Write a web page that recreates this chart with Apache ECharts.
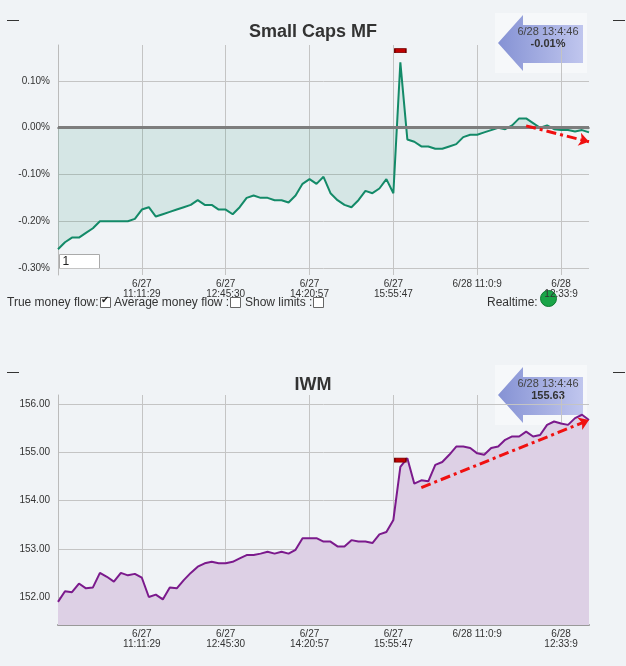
<!DOCTYPE html>
<html>
<head>
<meta charset="utf-8">
<script src="https://cdn.jsdelivr.net/npm/echarts@6/dist/echarts.min.js"></script>
<style>
  html, body { margin: 0; padding: 0; background: #f0f3f6; }
  #chart { width: 626px; height: 666px; }
</style>
</head>
<body>
<div id="chart"></div>
<script>
const categories = Array.from({ length: 77 }, (_, i) => i);
const tickLabels = {
    12: "6/27\n11:11:29",
    24: "6/27\n12:45:30",
    36: "6/27\n14:20:57",
    48: "6/27\n15:55:47",
    60: "6/28 11:0:9",
    72: "6/28\n12:33:9"
};
const moneyFlow = [
    -0.26, -0.245, -0.235, -0.235, -0.225, -0.215, -0.2, -0.2, -0.2, -0.2,
    -0.2, -0.195, -0.175, -0.17, -0.19, -0.185, -0.18, -0.175, -0.17, -0.165,
    -0.155, -0.165, -0.165, -0.175, -0.175, -0.185, -0.17, -0.15, -0.145, -0.15,
    -0.15, -0.155, -0.155, -0.16, -0.145, -0.12, -0.11, -0.12, -0.105, -0.14,
    -0.155, -0.165, -0.17, -0.155, -0.135, -0.14, -0.13, -0.11, -0.14, 0.14,
    -0.025, -0.03, -0.04, -0.04, -0.045, -0.045, -0.04, -0.035, -0.02, -0.015,
    -0.015, -0.01, -0.005, 0.0, -0.003, 0.005, 0.02, 0.02, 0.01, 0.0,
    0.005, -0.003, -0.005, -0.005, -0.008, -0.005, -0.01
];
const iwm = [
    151.9, 152.12, 152.1, 152.28, 152.18, 152.2, 152.5, 152.42, 152.32, 152.5,
    152.45, 152.48, 152.4, 152.0, 152.05, 151.95, 152.2, 152.18, 152.35, 152.5,
    152.63, 152.7, 152.73, 152.7, 152.7, 152.73, 152.8, 152.87, 152.87, 152.9,
    152.94, 152.9, 152.94, 152.9, 152.98, 153.22, 153.22, 153.22, 153.15, 153.15,
    153.05, 153.05, 153.18, 153.15, 153.15, 153.12, 153.3, 153.35, 153.6, 154.7,
    154.88, 154.35, 154.42, 154.4, 154.74, 154.8, 154.95, 155.12, 155.12, 155.09,
    154.98, 154.95, 155.09, 155.12, 155.26, 155.33, 155.33, 155.43, 155.33, 155.36,
    155.57, 155.64, 155.6, 155.57, 155.71, 155.78, 155.67
];
const mfTicks = [-0.3, -0.2, -0.1, 0, 0.1];
const iwmTicks = [152, 153, 154, 155, 156];

const chart = echarts.init(document.getElementById("chart"), null, { renderer: "canvas" });

const gridLine = { lineStyle: { color: "#c4c4c4", width: 1 } };
const labelFont = { color: "#333", fontSize: 10, fontFamily: "Arial" };
const arrowStyle = { color: "#f01010", width: 3, type: [10, 4, 3, 4] };

const xAxisFor = (gridIndex) => ({
    type: "category",
    gridIndex,
    data: categories,
    boundaryGap: false,
    axisLine: { lineStyle: { color: "#999", width: 2 } },
    axisTick: { show: false },
    axisLabel: {
        ...labelFont,
        interval: (i) => tickLabels[i] !== undefined,
        formatter: (v) => tickLabels[v] ?? "",
        lineHeight: 10,
        margin: 4
    },
    splitLine: { show: true, interval: (i) => tickLabels[i] !== undefined, ...gridLine }
});

const yAxisFor = (gridIndex, min, max, ticks, fmt) => ({
    type: "value",
    gridIndex,
    min, max,
    axisLine: { show: true, lineStyle: { color: "#bbb" } },
    axisTick: { show: false, customValues: ticks },
    axisLabel: { ...labelFont, customValues: ticks, formatter: fmt },
    splitLine: { show: true, ...gridLine }
});

const callout = (top, value) => ({
    type: "group",
    left: 495,
    top,
    children: [
        { type: "rect", shape: { x: 0, y: 0, width: 92, height: 60 }, style: { fill: "#f6f8fa" } },
        {
            type: "polygon",
            shape: { points: [[3, 30], [28, 2], [28, 12], [88, 12], [88, 50], [28, 50], [28, 58]] },
            style: {
                fill: new echarts.graphic.LinearGradient(0, 0, 1, 0, [
                    { offset: 0, color: "#8592d4" }, { offset: 1, color: "#c0c6ee" }
                ])
            }
        },
        { type: "text", style: { x: 53, y: 13, text: "6/28 13:4:46", fill: "#444", font: "11px Arial", textAlign: "center" } },
        { type: "text", style: { x: 53, y: 25, text: value, fill: "#333", font: "bold 11px Arial", textAlign: "center" } }
    ]
});

const inputBox = (top) => ({
    type: "group", left: 59, top,
    children: [
        { type: "rect", shape: { x: 0, y: 0, width: 40, height: 14 }, style: { fill: "#fff", stroke: "#aaa" } },
        { type: "text", style: { x: 3, y: 1, text: "1", fill: "#222", font: "12px Arial" } }
    ]
});

const flag = (value, idx) => ({
    symbol: "rect", symbolSize: [11, 4],
    itemStyle: { color: "#c00000", borderColor: "#700", borderWidth: 1 },
    label: { show: false },
    data: [{ coord: [idx, value] }]
});

chart.setOption({
    backgroundColor: "#f0f3f6",
    animation: false,
    title: [
        { text: "Small Caps MF", left: "center", top: 18, textStyle: { fontSize: 18, fontWeight: "bold", color: "#333", fontFamily: "Arial" } },
        { text: "IWM", left: "center", top: 371, textStyle: { fontSize: 18, fontWeight: "bold", color: "#333", fontFamily: "Arial" } }
    ],
    grid: [
        { left: 58, right: 37, top: 45, height: 230 },
        { left: 58, right: 37, top: 395, height: 230 }
    ],
    xAxis: [xAxisFor(0), xAxisFor(1)],
    yAxis: [
        yAxisFor(0, -0.315, 0.177, mfTicks, (v) => v.toFixed(2) + "%"),
        yAxisFor(1, 151.42, 156.19, iwmTicks, (v) => v.toFixed(2))
    ],
    series: [
        {
            type: "line", xAxisIndex: 0, yAxisIndex: 0, data: moneyFlow,
            showSymbol: false, lineStyle: { color: "#138a68", width: 2 },
            areaStyle: { color: "rgba(19,138,104,0.17)", origin: 0 },
            markLine: {
                silent: true, symbol: "none", label: { show: false },
                lineStyle: { color: "#7d7d7d", width: 3, type: "solid" },
                data: [
                    { yAxis: 0 },
                    [
                        { coord: [67, 0.004], symbol: "none", lineStyle: arrowStyle },
                        { coord: [76, -0.03], symbol: "arrow", symbolSize: 10 }
                    ]
                ]
            },
            markPoint: flag(0.165, 49)
        },
        {
            type: "line", xAxisIndex: 1, yAxisIndex: 1, data: iwm,
            showSymbol: false, lineStyle: { color: "#7b1a8c", width: 2 },
            areaStyle: { color: "#ddd0e5", origin: "start", opacity: 1 },
            markPoint: flag(154.84, 49),
            markLine: {
                silent: true, symbol: "none", label: { show: false },
                lineStyle: arrowStyle,
                data: [[
                    { coord: [52, 154.27] },
                    { coord: [76, 155.67], symbol: "arrow", symbolSize: 10 }
                ]]
            }
        }
    ],
    graphic: [
        callout(13, "-0.01%"),
        callout(365, "155.63"),
        inputBox(254),
        inputBox(604),
        { type: "rect", left: 7, top: 20, shape: { width: 12, height: 1 }, style: { fill: "#333" } },
        { type: "rect", left: 613, top: 20, shape: { width: 12, height: 1 }, style: { fill: "#333" } },
        { type: "rect", left: 7, top: 372, shape: { width: 12, height: 1 }, style: { fill: "#333" } },
        { type: "rect", left: 613, top: 372, shape: { width: 12, height: 1 }, style: { fill: "#333" } },
        { type: "text", left: 7, top: 297, style: { text: "True money flow:", fill: "#333", font: "12px Arial" } },
        { type: "rect", left: 100, top: 297, shape: { width: 10, height: 10 }, style: { fill: "#fff", stroke: "#666" } },
        { type: "text", left: 101, top: 295, style: { text: "✔", fill: "#222", font: "10px DejaVu Sans" } },
        { type: "text", left: 114, top: 297, style: { text: "Average money flow :", fill: "#333", font: "12px Arial" } },
        { type: "rect", left: 230, top: 297, shape: { width: 10, height: 10 }, style: { fill: "#fff", stroke: "#666" } },
        { type: "text", left: 245, top: 297, style: { text: "Show limits :", fill: "#333", font: "12px Arial" } },
        { type: "rect", left: 313, top: 297, shape: { width: 10, height: 10 }, style: { fill: "#fff", stroke: "#666" } },
        { type: "text", left: 487, top: 297, style: { text: "Realtime:", fill: "#333", font: "12px Arial" } },
        { type: "circle", left: 540, top: 290, shape: { r: 8 }, style: { fill: "#1aa548", stroke: "#0d7a30" } }
    ]
});
</script>
</body>
</html>
